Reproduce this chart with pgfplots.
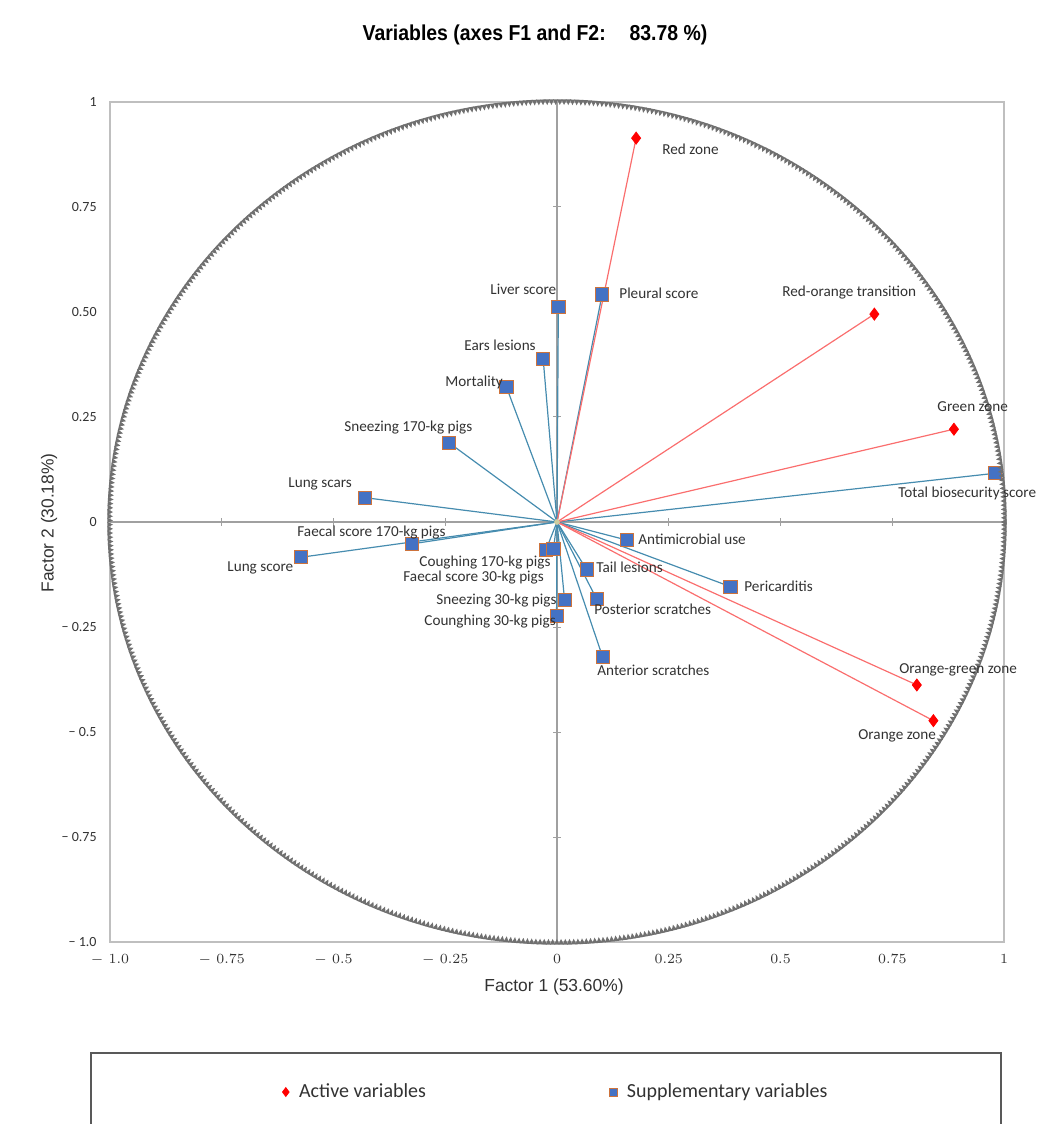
\documentclass[border=0pt]{standalone}
\usepackage{fontspec}
\usepackage{pgfplots}
\pgfplotsset{compat=1.18}
\usepackage{pgfplotstable}
\usetikzlibrary{decorations.markings}
\newfontfamily\calibri{Carlito}
\newfontfamily\arialf{Liberation Sans}
\newfontfamily\arialt[FakeStretch=0.9]{Liberation Sans}

\definecolor{rayred}{RGB}{250,110,110}
\definecolor{rayblue}{RGB}{70,140,175}
\definecolor{sqfill}{RGB}{68,114,196}
\definecolor{sqedge}{RGB}{205,115,60}
\definecolor{framegray}{RGB}{191,191,191}
\definecolor{zerogray}{RGB}{160,160,160}
\definecolor{trigray}{RGB}{112,112,112}
\definecolor{txt}{RGB}{50,50,50}

\pgfplotstableread{
x y
0.003 0.513
0.101 0.542
-0.031 0.389
-0.113 0.321
-0.242 0.189
-0.430 0.058
-0.324 -0.052
-0.573 -0.084
-0.025 -0.067
-0.008 -0.064
0.017 -0.186
-0.001 -0.224
0.156 -0.043
0.066 -0.113
0.388 -0.154
0.089 -0.184
0.102 -0.321
0.980 0.116
}\supptab

\pgfplotstableread{
x y
0.177 0.914
0.710 0.495
0.888 0.221
0.805 -0.388
0.842 -0.473
}\activetab

\tikzset{
  circmarks/.style={decoration={markings,
    mark=between positions 0 and 1 step 2.1pt with {
      \fill[trigray] (-1.35pt,-1.35pt)--(1.35pt,-1.35pt)--(0,1.5pt)--cycle;}},
    decorate},
  lbl/.style={font=\calibri\fontsize{7.6}{9}\selectfont, text=txt, inner sep=0pt, anchor=west}
}

\begin{document}
\begin{tikzpicture}
\path[use as bounding box] (-55pt,-91pt) rectangle (473.5pt,471pt);
\begin{axis}[
  scale only axis, width=447pt, height=420pt,
  xmin=-1, xmax=1, ymin=-1, ymax=1,
  clip=false,
  axis line style={draw=framegray, line width=0.6pt},
  major tick length=0pt,
  xtick={-1,-0.75,-0.5,-0.25,0,0.25,0.5,0.75,1},
  xticklabels={{$-$ 1.0},{$-$ 0.75},{$-$ 0.5},{$-$ 0.25},0,0.25,0.5,0.75,1},
  xticklabel style={font=\fontsize{7}{8}\selectfont, text=txt, inner sep=0pt, yshift=-6pt},
  ytick={-1,-0.75,-0.5,-0.25,0,0.25,0.5,0.75,1},
  yticklabels={{− 1.0},{− 0.75},{− 0.5},{− 0.25},0,0.25,0.50,0.75,1},
  yticklabel style={font=\calibri\fontsize{7}{8}\selectfont, text=txt, inner sep=0pt, xshift=-6.5pt},
  legend style={at={(axis description cs:0.1925,-0.1786)}, anchor=west, draw=none, fill=none,
    inner sep=0pt, font=\calibri\fontsize{10}{12}\selectfont, text=txt,
    /tikz/every odd column/.append style={column sep=3pt},
    /tikz/every even column/.append style={column sep=89.5pt}},
  legend columns=2,
  legend cell align=left,
  legend image code/.code={\draw[mark repeat=2,mark phase=2,#1] plot coordinates {(0pt,0pt)(2.5pt,0pt)(5pt,0pt)};},
]
\addlegendimage{only marks, mark=diamond*, mark size=2.2pt, color=red}
\addlegendentry{Active variables}
\addlegendimage{only marks, mark=square*, mark size=2pt, mark options={fill=sqfill, draw=sqedge, line width=0.3pt}}
\addlegendentry{Supplementary variables}

\draw[zerogray, line width=0.6pt] (axis cs:-1,0) -- (axis cs:1,0);
\draw[zerogray, line width=0.6pt] (axis cs:0,-1) -- (axis cs:0,1);
\pgfplotsinvokeforeach{-0.75,-0.5,-0.25,0.25,0.5,0.75}{
  \draw[zerogray, line width=0.5pt] ([xshift=-1.8pt]axis cs:0,#1) -- ([xshift=1.8pt]axis cs:0,#1);
  \draw[zerogray, line width=0.5pt] ([yshift=-1.8pt]axis cs:#1,0) -- ([yshift=1.8pt]axis cs:#1,0);
}

\addplot[forget plot, rayblue, line width=0.6pt, quiver={u=\thisrow{x}, v=\thisrow{y}}] table[x expr=0, y expr=0] {\supptab};
\addplot[forget plot, rayred, line width=0.6pt, quiver={u=\thisrow{x}, v=\thisrow{y}}] table[x expr=0, y expr=0] {\activetab};
\addplot[forget plot, only marks, mark=*, mark size=1.2pt, color={rgb,255:red,205;green,205;blue,160}] coordinates {(0,0)};
\addplot[forget plot, only marks, mark=square*, mark size=3.3pt, mark options={fill=sqfill, draw=sqedge, line width=0.4pt}] table {\supptab};
\addplot[forget plot, only marks, mark=diamond*, mark size=3pt, color=red] table {\activetab};
\end{axis}

% unit circle of the correlation plot (radius 1 in axis units: 223.5pt by 210pt)
\path[circmarks] (223.5pt,210pt) ellipse [x radius=223.5pt, y radius=210pt];

\begin{scope}[shift={(-55pt,471pt)}, x=0.5pt, y=-0.5pt]
\node[font=\arialt\bfseries\fontsize{10.8}{13}\selectfont, text=black, inner sep=0pt] at (535,35) {Variables (axes F1 and F2:\hspace{1.1em}83.78 \%)};
\node[font=\arialf\fontsize{8.7}{10}\selectfont, text=txt, inner sep=0pt] at (554,987) {Factor 1 (53.60\%)};
\node[font=\arialf\fontsize{8.7}{10}\selectfont, text=txt, inner sep=0pt, rotate=90] at (49,523) {Factor 2 (30.18\%)};
\draw[black!65, line width=0.6pt] (91,1200) -- (91,1053) -- (1001,1053) -- (1001,1200);

\node[lbl] at (662,149) {Red zone};
\node[lbl] at (619,293) {Pleural score};
\node[lbl] at (782,293) {Red-orange transition};
\node[lbl] at (937,407) {Green zone};
\node[lbl] at (898,493) {Total biosecurity score};
\node[lbl] at (490,289) {Liver score};
\node[lbl] at (464,345) {Ears lesions};
\node[lbl] at (445,382) {Mortality};
\node[lbl] at (344,428) {Sneezing 170-kg pigs};
\node[lbl] at (288,484) {Lung scars};
\node[lbl] at (297,533) {Faecal score 170-kg pigs};
\node[lbl] at (227,568) {Lung score};
\node[lbl] at (419,563) {Coughing 170-kg pigs};
\node[lbl] at (403,578) {Faecal score 30-kg pigs};
\node[lbl] at (436,601) {Sneezing 30-kg pigs};
\node[lbl] at (424,622) {Counghing 30-kg pigs};
\node[lbl] at (638,539) {Antimicrobial use};
\node[lbl] at (596,567) {Tail lesions};
\node[lbl] at (744,586) {Pericarditis};
\node[lbl] at (594,609) {Posterior scratches};
\node[lbl] at (597,670) {Anterior scratches};
\node[lbl] at (899,670) {Orange-green zone};
\node[lbl] at (858,736) {Orange zone};
\end{scope}
\end{tikzpicture}
\end{document}
